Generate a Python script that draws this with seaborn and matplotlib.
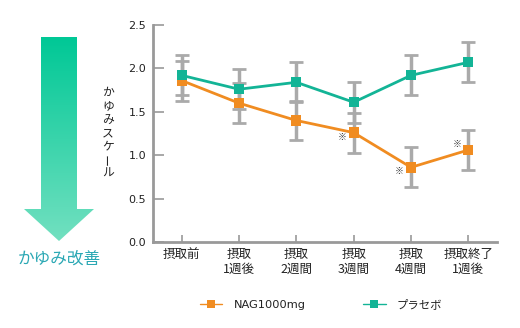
import matplotlib
matplotlib.use("Agg")
import matplotlib.pyplot as plt
import seaborn as sns
import numpy as np
import pandas as pd
from matplotlib.lines import Line2D
from matplotlib.patches import Polygon
from matplotlib.font_manager import FontProperties

# ---- data ----
categories = ["摂取前", "摂取\n1週後", "摂取\n2週間", "摂取\n3週間", "摂取\n4週間", "摂取終了\n1週後"]
nag_values = [1.86, 1.60, 1.40, 1.26, 0.86, 1.06]
nag_errors = [0.23, 0.23, 0.23, 0.23, 0.23, 0.23]
placebo_values = [1.92, 1.76, 1.84, 1.61, 1.92, 2.07]
placebo_errors = [0.23, 0.23, 0.23, 0.235, 0.23, 0.23]
series_names = ["NAG1000mg", "プラセボ"]
sig_index = [3, 4, 5]
sig_y = [1.20, 0.815, 1.127]
y_ticks = [0.0, 0.5, 1.0, 1.5, 2.0, 2.5]

ORANGE = "#F08C21"
TEAL = "#13B496"
GRAY = "#AAAAAA"

sns.set_theme(style="white")
plt.rcParams["font.family"] = ["Noto Sans CJK JP", "DejaVu Sans"]

W, H = 520, 328
fig = plt.figure(figsize=(W / 100, H / 100), dpi=100)
ax = fig.add_axes([153 / W, 1 - 242 / H, (497 - 153) / W, (242 - 25) / H])

n = len(categories)
x = np.arange(n)
df = pd.DataFrame({
    "x": np.concatenate([x, x]),
    "value": nag_values + placebo_values,
    "series": [series_names[0]] * n + [series_names[1]] * n,
})
palette = {series_names[0]: ORANGE, series_names[1]: TEAL}

# lines
sns.lineplot(data=df, x="x", y="value", hue="series", palette=palette,
             linewidth=2, legend=False, ax=ax, zorder=2)
# error bars
for vals, errs in ((nag_values, nag_errors), (placebo_values, placebo_errors)):
    ax.errorbar(x, vals, yerr=errs, fmt="none", ecolor=GRAY, elinewidth=2.5,
                capsize=5, capthick=2, zorder=3)
# markers
sns.scatterplot(data=df, x="x", y="value", hue="series", palette=palette,
                marker="s", s=55, linewidth=0, legend=False, ax=ax, zorder=4)

for i, yv in zip(sig_index, sig_y):
    ax.text(x[i] - 0.2, yv, "※", fontsize=6.5, color="#333333",
            ha="center", va="center", zorder=5)

ax.set_xlim(-0.5, n - 0.5)
ax.set_ylim(0, 2.5)
ax.set_xticks(x)
ax.set_xticklabels(categories, fontsize=9, color="#222222", linespacing=1.2)
ax.set_yticks(y_ticks)
ax.set_yticklabels([f"{v:.1f}" for v in y_ticks], fontsize=8, color="#222222",
                   family="DejaVu Sans")
ax.set_xlabel("")
ax.set_ylabel("")
for s in ["top", "right"]:
    ax.spines[s].set_visible(False)
for s in ["left", "bottom"]:
    ax.spines[s].set_color("#999999")
    ax.spines[s].set_linewidth(2)
ax.tick_params(axis="y", direction="in", length=8, width=1.2, color="#999999", pad=5, left=True)
ax.tick_params(axis="x", direction="in", length=5, width=1.2, color="#999999", pad=4, bottom=True)
ax.grid(False)

# legend
handles = [Line2D([], [], color=ORANGE, lw=1, marker="s", markersize=6, markeredgewidth=0),
           Line2D([], [], color=TEAL, lw=1, marker="s", markersize=6, markeredgewidth=0)]
leg_font = FontProperties(family=["DejaVu Sans", "Noto Sans CJK JP"], size=8.2)
fig.legend(handles, series_names, loc="center", bbox_to_anchor=(321 / W, 1 - 305 / H),
           ncol=2, frameon=False, prop=leg_font, handlelength=2.0, columnspacing=5.0,
           handletextpad=1.0, labelcolor="#222222")

# overlay axes for arrow & labels in pixel coords
ov = fig.add_axes([0, 0, 1, 1], zorder=-1)
ov.set_xlim(0, W)
ov.set_ylim(H, 0)
ov.axis("off")
arrow_pts = [(41, 37), (77, 37), (77, 209), (94, 209), (59, 241), (24, 209), (41, 209)]
poly = Polygon(arrow_pts, closed=True, facecolor="none", edgecolor="none")
ov.add_patch(poly)
top_c = np.array([0x00, 0xC8, 0x96]) / 255
bot_c = np.array([0x72, 0xE0, 0xC0]) / 255
t = np.linspace(0, 1, 256)[:, None]
grad = (top_c[None, None, :] * (1 - t[:, :, None]) + bot_c[None, None, :] * t[:, :, None])
grad = np.repeat(grad, 2, axis=1)
im = ov.imshow(grad, extent=(24, 94, 241, 37), aspect="auto", interpolation="bilinear")
im.set_clip_path(poly)
ov.text(59, 259, "かゆみ改善", fontsize=12, color="#2BA8B4", ha="center", va="center")

# vertical y-label
label = "かゆみスケール"
y0, step = 92, 13.5
for k, ch in enumerate(label):
    rot = 90 if ch == "ー" else 0
    fig.text(108 / W, 1 - (y0 + k * step) / H, ch, fontsize=8.5, color="#222222",
             ha="center", va="center", rotation=rot)

fig.savefig("out.png", dpi=100)
